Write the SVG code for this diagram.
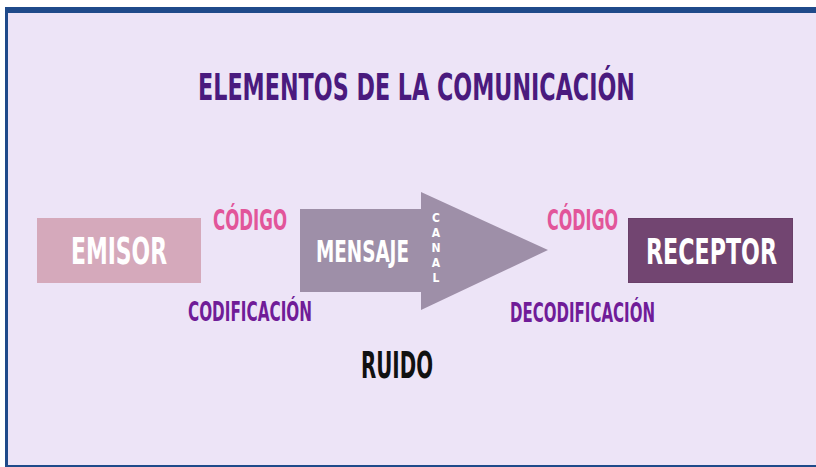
<svg xmlns="http://www.w3.org/2000/svg" width="816" height="467" viewBox="0 0 816 467">
<style>
text{font-family:"Liberation Sans Narrow","DejaVu Sans Condensed","DejaVu Sans",sans-serif;font-weight:bold;font-stretch:condensed}
.w{fill:#ffffff}
.pink{fill:#E2559A}
.purple{fill:#701C98}
</style>
<rect x="0" y="0" width="816" height="467" fill="#ffffff"/>
<rect x="5" y="7" width="811" height="460" fill="#1F4A8A"/>
<rect x="8" y="13" width="808" height="452" fill="#EDE4F7"/>
<g id="title">
<text x="198" y="100" font-size="37" fill="#4A1A7E" textLength="437" lengthAdjust="spacingAndGlyphs">ELEMENTOS DE LA COMUNICACIÓN</text>
</g>
<g id="emisor">
<rect x="37" y="218" width="164" height="65" fill="#D5A9BB"/>
<text class="w" x="71" y="264" font-size="37" textLength="96" lengthAdjust="spacingAndGlyphs">EMISOR</text>
</g>
<g id="codigo-izq">
<text class="pink" x="213" y="230" font-size="28" textLength="74" lengthAdjust="spacingAndGlyphs">CÓDIGO</text>
</g>
<g id="codificacion">
<text class="purple" x="188" y="321" font-size="26" textLength="124" lengthAdjust="spacingAndGlyphs">CODIFICACIÓN</text>
</g>
<g id="mensaje-canal">
<polygon points="300,209 421,209 421,192 548,250 421,310 421,292 300,292" fill="#9E8FA8"/>
<text class="w" x="316" y="262" font-size="30" textLength="93" lengthAdjust="spacingAndGlyphs">MENSAJE</text>
<g font-size="12" text-anchor="middle">
<text class="w" x="436" y="222">C</text>
<text class="w" x="436" y="237">A</text>
<text class="w" x="436" y="252">N</text>
<text class="w" x="436" y="267">A</text>
<text class="w" x="436" y="282">L</text>
</g>
</g>
<g id="codigo-der">
<text class="pink" x="547" y="230" font-size="28" textLength="71" lengthAdjust="spacingAndGlyphs">CÓDIGO</text>
</g>
<g id="decodificacion">
<text class="purple" x="510" y="322" font-size="26" textLength="145" lengthAdjust="spacingAndGlyphs">DECODIFICACIÓN</text>
</g>
<g id="receptor">
<rect x="628.5" y="218.5" width="164" height="64" fill="#724571" stroke="#6A3F69" stroke-width="1"/>
<text class="w" x="646" y="264" font-size="36" textLength="131" lengthAdjust="spacingAndGlyphs">RECEPTOR</text>
</g>
<g id="ruido">
<text x="361" y="378" font-size="38" fill="#111111" textLength="72" lengthAdjust="spacingAndGlyphs">RUIDO</text>
</g>
</svg>
